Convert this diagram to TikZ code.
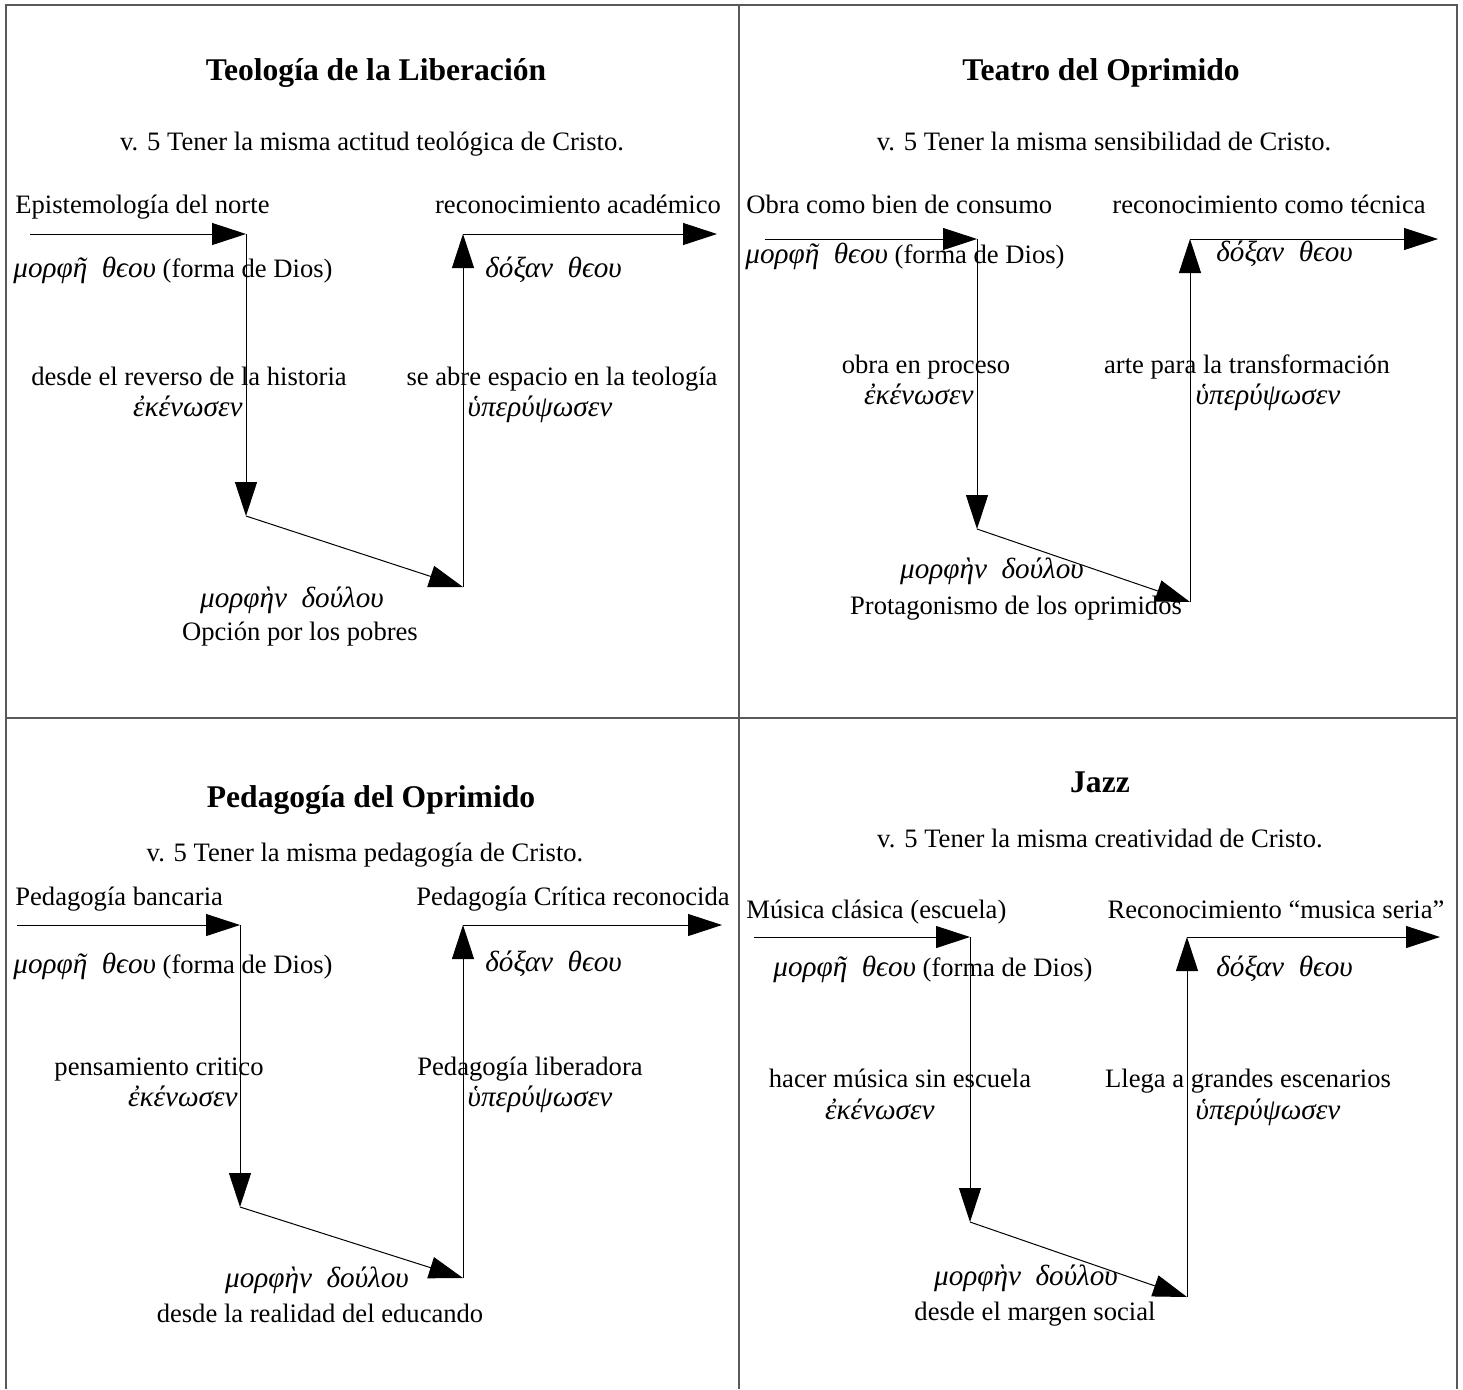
\documentclass[tikz,border=0pt]{standalone}
\usepackage{fontspec}
\setmainfont{Liberation Serif}
\usetikzlibrary{arrows.meta}
\newcommand\grk[1]{{\fontsize{14.6pt}{17pt}\selectfont\itshape #1}}
\tikzset{
  frame/.style={draw=black!65, line width=1pt},
  arr/.style={-{Triangle[length=17pt,width=11pt]}, line width=0.5pt},
  title/.style={inner sep=0pt, anchor=base, font=\fontsize{15.8pt}{18pt}\selectfont\bfseries},
  body/.style={inner sep=0pt, anchor=base, font=\fontsize{13.3pt}{16pt}\selectfont},
  bodyL/.style={body, anchor=base west},
  grkC/.style={body, font=\fontsize{14.6pt}{17pt}\selectfont\itshape},
  grkL/.style={grkC, anchor=base west},
  grkR/.style={grkC, anchor=base east}
}
\begin{document}
\begin{tikzpicture}[x=0.5pt,y=-0.5pt]
\useasboundingbox (0,0) rectangle (1463,1389);
\fill[white] (0,0) rectangle (1463,1389);
% frame
\draw[frame] (6,1389) -- (6,5) -- (1457,5) -- (1457,1389);
\draw[frame] (739,5) -- (739,1389);
\draw[frame] (6,718) -- (1457,718);

% ---------- Top left ----------
\node[title] (t1) at (376,80) {Teología de la Liberación};
\node[body] (s1) at (372,150) {v. 5 Tener la misma actitud teológica de Cristo.};
\node[bodyL] (a1) at (15,213) {Epistemología del norte};
\node[bodyL] (b1) at (13,277) {\grk{μορφῆ\ \ θϵου} (forma de Dios)};
\node[body] (c1) at (189,385) {desde el reverso de la historia};
\node[grkR] (d1) at (243,416) {ἐκένωσεν};
\node[grkC] (e1) at (292,607) {μορφὴν\ \ δούλου};
\node[body] (f1) at (300,640) {Opción por los pobres};
\node[body] (g1) at (562,385) {se abre espacio en la teología};
\node[grkC] (h1) at (540,416) {ὑπερύψωσεν};
\node[grkL] (i1) at (485,277) {δόξαν\ \ θϵου};
\node[body] (j1) at (578,213) {reconocimiento académico};
\coordinate (p1s) at (30,234);
\coordinate (p1a) at (246,234);
\coordinate (p1b) at (246,516);
\coordinate (p1c) at (463,587);
\coordinate (p1d) at (463,234);
\coordinate (p1e) at (717,234);
\draw[arr] (p1s) -- (p1a);
\draw[arr] (p1a) -- (p1b);
\draw[arr] (p1b) -- (p1c);
\draw[arr] (p1c) -- (p1d);
\draw[arr] (p1d) -- (p1e);

% ---------- Top right ----------
\node[title] (t2) at (1101,80) {Teatro del Oprimido};
\node[body] (s2) at (1104,150) {v. 5 Tener la misma sensibilidad de Cristo.};
\node[bodyL] (a2) at (746,213) {Obra como bien de consumo};
\node[bodyL] (b2) at (745,263) {\grk{μορφῆ\ \ θϵου} (forma de Dios)};
\node[body] (c2) at (926,373) {obra en proceso};
\node[grkR] (d2) at (974,404) {ἐκένωσεν};
\node[grkC] (e2) at (992,578) {μορφὴν\ \ δούλου};
\node[body] (f2) at (1016,614) {Protagonismo de los oprimidos};
\node[body] (g2) at (1247,373) {arte para la transformación};
\node[grkC] (h2) at (1268,404) {ὑπερύψωσεν};
\node[grkL] (i2) at (1216,261) {δόξαν\ \ θϵου};
\node[body] (j2) at (1269,213) {reconocimiento como técnica};
\coordinate (p2s) at (765,239);
\coordinate (p2a) at (977,239);
\coordinate (p2b) at (977,529);
\coordinate (p2c) at (1190,602);
\coordinate (p2d) at (1190,239);
\coordinate (p2e) at (1438,239);
\draw[arr] (p2s) -- (p2a);
\draw[arr] (p2a) -- (p2b);
\draw[arr] (p2b) -- (p2c);
\draw[arr] (p2c) -- (p2d);
\draw[arr] (p2d) -- (p2e);

% ---------- Bottom left ----------
\node[title] (t3) at (371,807) {Pedagogía del Oprimido};
\node[body] (s3) at (365,861) {v. 5 Tener la misma pedagogía de Cristo.};
\node[bodyL] (a3) at (15,905) {Pedagogía bancaria};
\node[bodyL] (b3) at (13,973) {\grk{μορφῆ\ \ θϵου} (forma de Dios)};
\node[body] (c3) at (159,1075) {pensamiento critico};
\node[grkR] (d3) at (238,1106) {ἐκένωσεν};
\node[grkC] (e3) at (317,1287) {μορφὴν\ \ δούλου};
\node[body] (f3) at (320,1322) {desde la realidad del educando};
\node[body] (g3) at (530,1075) {Pedagogía liberadora};
\node[grkC] (h3) at (540,1106) {ὑπερύψωσεν};
\node[grkL] (i3) at (485,971) {δόξαν\ \ θϵου};
\node[body] (j3) at (573,905) {Pedagogía Crítica reconocida};
\coordinate (p3s) at (17,925);
\coordinate (p3a) at (240,925);
\coordinate (p3b) at (240,1207);
\coordinate (p3c) at (463,1278);
\coordinate (p3d) at (463,925);
\coordinate (p3e) at (722,925);
\draw[arr] (p3s) -- (p3a);
\draw[arr] (p3a) -- (p3b);
\draw[arr] (p3b) -- (p3c);
\draw[arr] (p3c) -- (p3d);
\draw[arr] (p3d) -- (p3e);

% ---------- Bottom right ----------
\node[title] (t4) at (1100,792) {Jazz};
\node[body] (s4) at (1100,847) {v. 5 Tener la misma creatividad de Cristo.};
\node[bodyL] (a4) at (746,918) {Música clásica (escuela)};
\node[bodyL] (b4) at (773,976) {\grk{μορφῆ\ \ θϵου} (forma de Dios)};
\node[body] (c4) at (900,1087) {hacer música sin escuela};
\node[grkR] (d4) at (935,1119) {ἐκένωσεν};
\node[grkC] (e4) at (1026,1285) {μορφὴν\ \ δούλου};
\node[body] (f4) at (1035,1320) {desde el margen social};
\node[body] (g4) at (1248,1087) {Llega a grandes escenarios};
\node[grkC] (h4) at (1268,1119) {ὑπερύψωσεν};
\node[grkL] (i4) at (1216,976) {δόξαν\ \ θϵου};
\node[body] (j4) at (1276,918) {Reconocimiento “musica seria”};
\coordinate (p4s) at (754,937);
\coordinate (p4a) at (970,937);
\coordinate (p4b) at (970,1222);
\coordinate (p4c) at (1187,1297);
\coordinate (p4d) at (1187,937);
\coordinate (p4e) at (1440,937);
\draw[arr] (p4s) -- (p4a);
\draw[arr] (p4a) -- (p4b);
\draw[arr] (p4b) -- (p4c);
\draw[arr] (p4c) -- (p4d);
\draw[arr] (p4d) -- (p4e);
\end{tikzpicture}
\end{document}
